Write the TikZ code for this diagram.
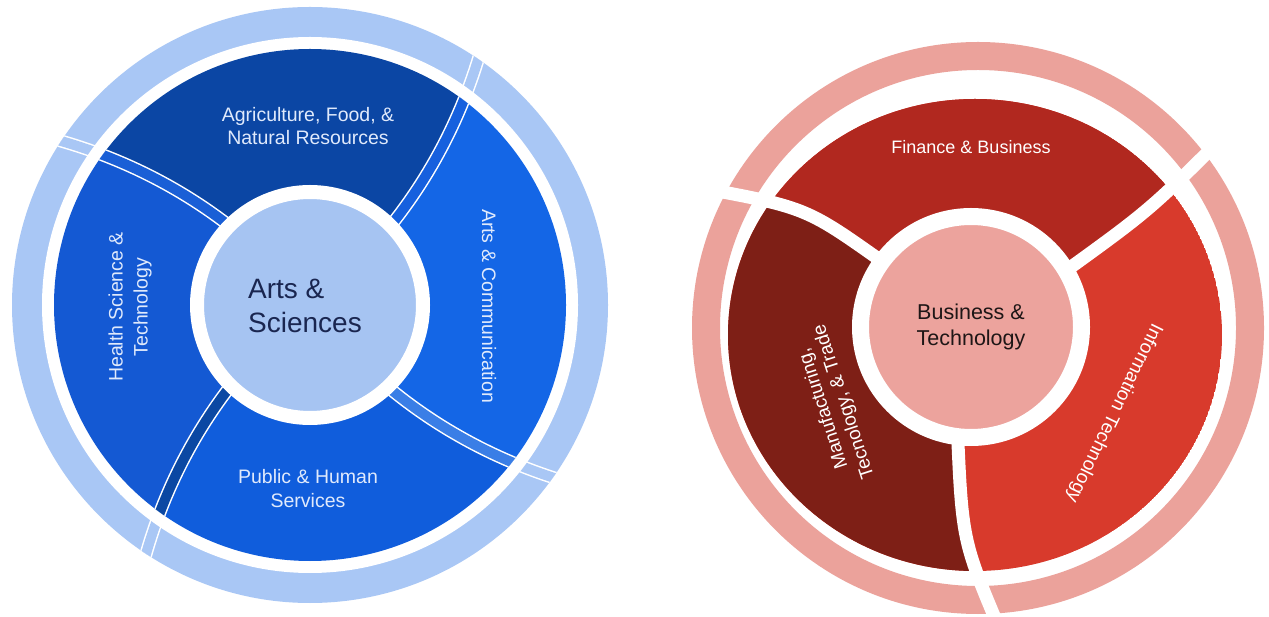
\documentclass[tikz,border=0pt]{standalone}
\usepackage{fontspec}
\setmainfont{Liberation Sans}
\definecolor{ringblue}{RGB}{169,199,245}
\definecolor{coreblue}{RGB}{166,196,242}
\definecolor{agrblue}{RGB}{11,70,164}
\definecolor{healthblue}{RGB}{20,89,211}
\definecolor{artsblue}{RGB}{20,102,230}
\definecolor{publicblue}{RGB}{16,93,220}
\definecolor{bandA}{RGB}{22,96,222}
\definecolor{bandB}{RGB}{26,95,214}
\definecolor{bandC}{RGB}{11,72,163}
\definecolor{bandD}{RGB}{58,126,230}
\definecolor{labelblue}{RGB}{224,234,252}
\definecolor{hubtextblue}{RGB}{26,38,80}
\definecolor{ringpink}{RGB}{235,162,155}
\definecolor{corepink}{RGB}{236,163,157}
\definecolor{finred}{RGB}{177,40,31}
\definecolor{manured}{RGB}{126,31,22}
\definecolor{itred}{RGB}{216,58,44}
\definecolor{hubtextred}{RGB}{30,22,22}
\begin{document}
\begin{tikzpicture}[
		x=1pt, y=1pt,
		every node/.style={inner sep=0pt, align=center},
		bluelabel/.style={text=labelblue, font=\fontsize{19.5}{23}\selectfont},
		redlabel/.style={text=white, font=\fontsize{19}{22}\selectfont},
		bluehub/.style={circle, fill=coreblue, draw=white, line width=14pt, minimum size=226pt},
		hubtext/.style={align=left, text=hubtextblue, font=\fontsize{28}{34}\selectfont},
		redhub/.style={circle, fill=corepink, draw=white, line width=17pt, minimum size=221pt, text=hubtextred, font=\fontsize{21.5}{26}\selectfont},
		sepwhite/.style={white, line width=13pt},
		gapwhite/.style={white, line width=13pt}
	]
	\useasboundingbox (0,0) rectangle (1269,616);
	\fill[white] (0,0) rectangle (1269,616);

	% blue wheel
	\begin{scope}[shift={(310,311)}]
		\fill[ringblue] (0,0) circle (298);
		\begin{scope}
			\clip (0,0) circle (298);
			\foreach \a in {45,136,226,314} {
				\draw[sepwhite] plot[domain=230:320, samples=12] ({\a+0.06*(\x-121)}:\x);
				\draw[ringblue, line width=10pt] plot[domain=230:320, samples=12] ({\a+0.06*(\x-121)}:\x);
			}
		\end{scope}
		\fill[white] (0,0) circle (268);
		\begin{scope}
			\clip (0,0) circle (256);
			\foreach \a/\b/\col in {45/136/agrblue, 136/226/healthblue, 226/314/publicblue, 314/405/artsblue}
				\fill[\col] (0,0) -- plot[domain=100:300, samples=25] ({\a+0.06*(\x-121)}:\x) -- ({\a+11}:420) -- ({\b+11}:420)
					-- plot[domain=300:100, samples=25] ({\b+0.06*(\x-121)}:\x) -- cycle;
			\foreach \a/\col in {45/bandA, 136/bandB, 226/bandC, 314/bandD} {
				\draw[sepwhite] plot[domain=100:270, samples=25] ({\a+0.06*(\x-121)}:\x);
				\draw[\col, line width=10pt] plot[domain=100:270, samples=25] ({\a+0.06*(\x-121)}:\x);
			}
		\end{scope}
	\end{scope}
	\node[bluehub] (arts) at (310,311) {};
	\node[hubtext] (artstext) at (305,310) {Arts \&\\Sciences};
	\node[bluelabel] (agri) at (308,490) {Agriculture, Food, \&\\Natural Resources};
	\node[bluelabel, rotate=-90] (artscomm) at (489,310) {Arts \& Communication};
	\node[bluelabel, rotate=90, font=\fontsize{19.5}{25}\selectfont] (health) at (130,309) {Health Science \&\\Technology};
	\node[bluelabel, font=\fontsize{19.5}{24}\selectfont] (public) at (308,127) {Public \& Human\\Services};

	% red wheel
	\draw[ringpink, line width=28pt] (978,288) circle (272);
	\begin{scope}
		\clip (975,281) ellipse (247 and 236);
		\fill[itred] (975,281) ellipse (247 and 236);
		\fill[finred] (880,356) .. controls (805,409) .. (690,430) -- (690,616) -- (1260,616) -- (1230,486)
			.. controls (1150,406) .. (1060,341) -- cycle;
		\fill[manured] (880,356) .. controls (805,409) .. (690,430) -- (600,430) -- (600,-30) -- (1000,-30) -- (1000,-14)
			.. controls (962,76) .. (957,196) -- cycle;
	\end{scope}
	\draw[gapwhite] (880,356) .. controls (805,409) .. (690,430);
	\draw[gapwhite] (1060,341) .. controls (1150,406) .. (1230,486);
	\draw[gapwhite] (957,196) .. controls (962,76) .. (1000,-14);
	\node[redhub] (business) at (971,289) {Business \&\\Technology};
	\node[redlabel, font=\fontsize{18}{22}\selectfont] (finance) at (971,469) {Finance \& Business};
	\node[redlabel, rotate=-116] (infotech) at (1114,203) {Information Technology};
	\node[redlabel, rotate=108] (manufact) at (834,211) {Manufacturing,\\Tecnology, \& Trade};
\end{tikzpicture}
\end{document}
